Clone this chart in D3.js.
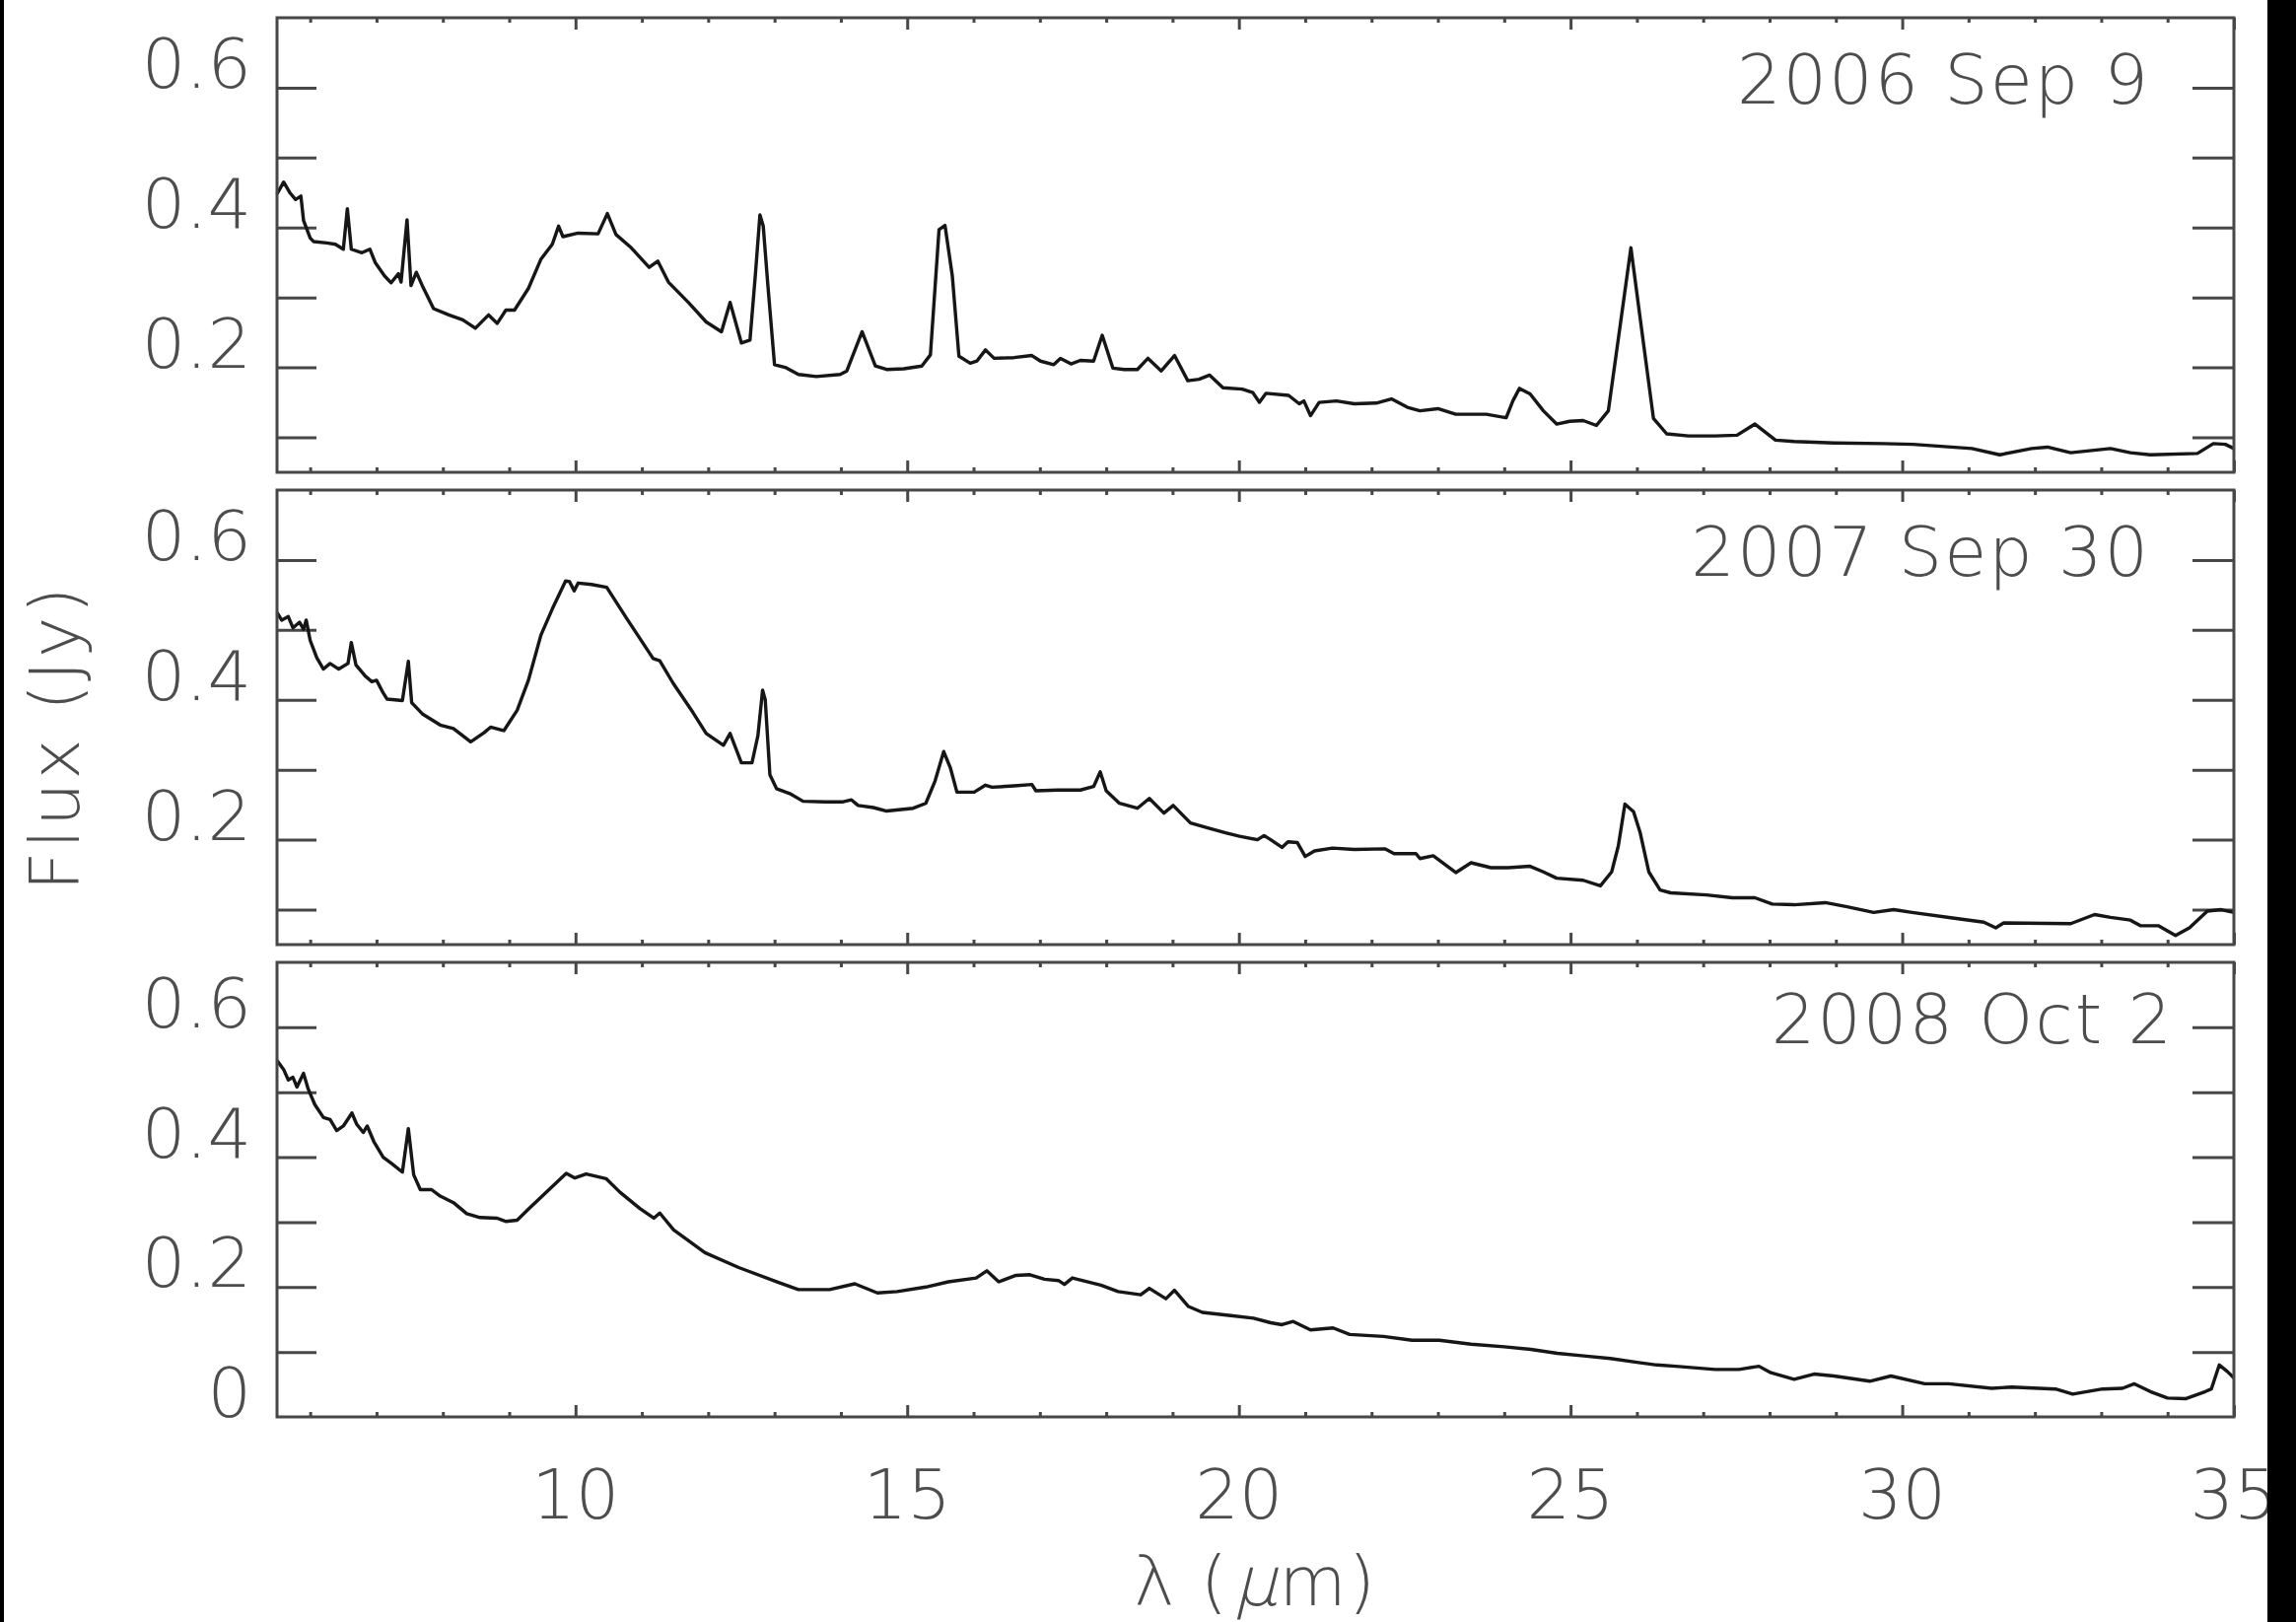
<!DOCTYPE html>
<html>
<head>
<meta charset="utf-8">
<script src="https://cdn.jsdelivr.net/npm/d3@7"></script>
<style>
  html, body { margin: 0; padding: 0; background: #fff; }
  svg { display: block; }
  .lbl { font-family: "DejaVu Sans", "Open Sans", sans-serif; font-weight: 200; fill: #4d4d4d; }
</style>
</head>
<body>
<script>
// Mid-infrared spectra (wavelength in micron, flux in Jy) for three epochs
const panelDates = ["2006 Sep 9", "2007 Sep 30", "2008 Oct 2"];

const spec2006 = [[5.50,0.448],[5.60,0.465],[5.70,0.449],[5.78,0.440],[5.86,0.445],[5.90,0.410],[6.00,0.385],[6.05,0.380],[6.25,0.378],[6.38,0.376],[6.50,0.369],[6.56,0.427],[6.62,0.369],[6.78,0.364],[6.90,0.369],[6.98,0.350],[7.12,0.331],[7.22,0.321],[7.33,0.334],[7.37,0.322],[7.46,0.411],[7.52,0.317],[7.60,0.336],[7.69,0.317],[7.86,0.284],[8.09,0.275],[8.30,0.268],[8.49,0.256],[8.69,0.275],[8.82,0.263],[8.95,0.282],[9.08,0.282],[9.29,0.313],[9.48,0.355],[9.65,0.376],[9.745,0.402],[9.81,0.387],[10.04,0.392],[10.34,0.391],[10.48,0.420],[10.61,0.390],[10.84,0.371],[11.11,0.343],[11.24,0.352],[11.40,0.322],[11.70,0.293],[11.97,0.265],[12.20,0.251],[12.33,0.293],[12.50,0.235],[12.63,0.239],[12.71,0.331],[12.78,0.418],[12.83,0.402],[12.90,0.317],[13.00,0.204],[13.16,0.200],[13.36,0.190],[13.63,0.187],[13.99,0.190],[14.09,0.195],[14.32,0.251],[14.52,0.202],[14.69,0.197],[14.95,0.198],[15.22,0.202],[15.35,0.218],[15.48,0.397],[15.57,0.403],[15.68,0.331],[15.78,0.216],[15.95,0.206],[16.05,0.209],[16.18,0.225],[16.31,0.213],[16.61,0.214],[16.88,0.217],[17.01,0.209],[17.21,0.204],[17.31,0.213],[17.47,0.205],[17.61,0.210],[17.81,0.209],[17.94,0.246],[18.10,0.199],[18.27,0.197],[18.47,0.197],[18.63,0.213],[18.83,0.195],[19.03,0.217],[19.23,0.181],[19.40,0.183],[19.56,0.189],[19.76,0.171],[20.05,0.169],[20.21,0.164],[20.31,0.150],[20.41,0.163],[20.75,0.160],[20.91,0.148],[20.98,0.152],[21.08,0.131],[21.21,0.150],[21.47,0.152],[21.74,0.148],[22.07,0.149],[22.30,0.155],[22.54,0.143],[22.73,0.138],[23.00,0.141],[23.27,0.133],[23.73,0.133],[24.03,0.128],[24.13,0.152],[24.23,0.170],[24.39,0.162],[24.59,0.138],[24.79,0.119],[24.99,0.123],[25.19,0.124],[25.39,0.117],[25.57,0.138],[25.75,0.261],[25.91,0.371],[26.05,0.270],[26.25,0.127],[26.45,0.105],[26.78,0.102],[27.18,0.102],[27.51,0.103],[27.78,0.119],[28.09,0.096],[28.37,0.094],[28.97,0.092],[29.70,0.091],[30.16,0.090],[31.05,0.084],[31.47,0.075],[31.95,0.084],[32.19,0.086],[32.54,0.078],[33.14,0.084],[33.44,0.078],[33.74,0.075],[34.45,0.077],[34.69,0.091],[34.87,0.090],[35.00,0.084]];

const spec2007 = [[5.50,0.525],[5.57,0.514],[5.67,0.519],[5.74,0.503],[5.84,0.511],[5.90,0.501],[5.94,0.514],[6.00,0.485],[6.10,0.460],[6.20,0.444],[6.30,0.452],[6.43,0.444],[6.57,0.452],[6.62,0.482],[6.69,0.450],[6.83,0.434],[6.93,0.426],[7.00,0.428],[7.10,0.410],[7.16,0.401],[7.39,0.399],[7.48,0.455],[7.53,0.396],[7.69,0.380],[7.96,0.364],[8.16,0.359],[8.42,0.340],[8.62,0.353],[8.72,0.361],[8.92,0.356],[9.12,0.385],[9.29,0.428],[9.48,0.493],[9.65,0.530],[9.85,0.570],[9.91,0.569],[9.98,0.556],[10.04,0.567],[10.24,0.565],[10.47,0.561],[10.78,0.515],[11.17,0.459],[11.27,0.456],[11.47,0.424],[11.77,0.382],[11.97,0.352],[12.23,0.335],[12.33,0.352],[12.50,0.310],[12.66,0.310],[12.75,0.349],[12.82,0.414],[12.86,0.400],[12.93,0.293],[13.03,0.273],[13.23,0.266],[13.43,0.255],[13.76,0.254],[14.02,0.254],[14.16,0.257],[14.26,0.249],[14.49,0.246],[14.69,0.241],[15.09,0.245],[15.28,0.252],[15.42,0.284],[15.55,0.326],[15.65,0.303],[15.75,0.268],[16.01,0.268],[16.18,0.278],[16.28,0.275],[16.61,0.277],[16.88,0.279],[16.94,0.270],[17.27,0.271],[17.61,0.271],[17.81,0.276],[17.91,0.297],[18.00,0.270],[18.20,0.252],[18.47,0.245],[18.65,0.259],[18.87,0.238],[19.01,0.249],[19.27,0.224],[19.53,0.217],[19.80,0.210],[20.01,0.205],[20.28,0.200],[20.38,0.206],[20.48,0.200],[20.65,0.189],[20.74,0.197],[20.88,0.196],[21.00,0.176],[21.14,0.184],[21.41,0.188],[21.74,0.186],[22.20,0.187],[22.34,0.180],[22.67,0.180],[22.73,0.173],[22.93,0.177],[23.27,0.153],[23.50,0.167],[23.80,0.160],[24.06,0.160],[24.39,0.162],[24.59,0.154],[24.79,0.145],[25.19,0.142],[25.45,0.134],[25.62,0.154],[25.72,0.191],[25.82,0.251],[25.95,0.240],[26.05,0.210],[26.18,0.154],[26.35,0.128],[26.51,0.124],[27.05,0.121],[27.44,0.117],[27.78,0.117],[28.04,0.108],[28.37,0.107],[28.84,0.110],[29.17,0.104],[29.57,0.096],[29.87,0.100],[30.15,0.096],[30.76,0.088],[31.23,0.082],[31.41,0.074],[31.53,0.081],[32.54,0.080],[32.90,0.093],[33.14,0.089],[33.44,0.085],[33.59,0.077],[33.86,0.077],[34.12,0.063],[34.33,0.074],[34.60,0.098],[34.81,0.100],[35.00,0.096]];

const spec2008 = [[5.50,0.549],[5.60,0.535],[5.67,0.519],[5.74,0.523],[5.80,0.508],[5.90,0.529],[5.97,0.505],[6.07,0.481],[6.20,0.461],[6.30,0.458],[6.40,0.441],[6.50,0.448],[6.63,0.468],[6.70,0.451],[6.80,0.438],[6.86,0.448],[6.96,0.424],[7.10,0.400],[7.23,0.390],[7.39,0.377],[7.48,0.444],[7.56,0.373],[7.66,0.350],[7.83,0.350],[7.96,0.340],[8.16,0.330],[8.36,0.313],[8.56,0.307],[8.82,0.306],[8.95,0.301],[9.12,0.303],[9.29,0.320],[9.62,0.352],[9.86,0.375],[9.99,0.368],[10.16,0.374],[10.46,0.367],[10.67,0.346],[10.97,0.321],[11.18,0.306],[11.27,0.314],[11.48,0.288],[11.95,0.253],[12.46,0.230],[13.06,0.207],[13.36,0.196],[13.83,0.196],[14.21,0.205],[14.55,0.191],[14.85,0.193],[15.28,0.200],[15.62,0.208],[16.04,0.214],[16.20,0.225],[16.38,0.208],[16.64,0.218],[16.85,0.219],[17.07,0.212],[17.28,0.210],[17.37,0.204],[17.49,0.214],[17.92,0.203],[18.18,0.193],[18.52,0.188],[18.65,0.198],[18.90,0.182],[19.03,0.195],[19.24,0.170],[19.45,0.161],[19.88,0.156],[20.22,0.152],[20.48,0.145],[20.65,0.142],[20.82,0.147],[21.08,0.134],[21.42,0.137],[21.67,0.127],[22.18,0.124],[22.61,0.118],[23.02,0.118],[23.50,0.112],[24.00,0.108],[24.40,0.104],[24.80,0.098],[25.20,0.094],[25.60,0.090],[26.00,0.084],[26.30,0.080],[26.585,0.078],[27.18,0.073],[27.54,0.073],[27.84,0.078],[28.02,0.068],[28.37,0.058],[28.67,0.066],[28.97,0.063],[29.51,0.055],[29.83,0.063],[30.34,0.051],[30.70,0.051],[31.35,0.044],[31.65,0.046],[32.31,0.043],[32.57,0.035],[33.02,0.043],[33.32,0.044],[33.50,0.051],[33.74,0.039],[34.00,0.029],[34.27,0.028],[34.57,0.039],[34.66,0.043],[34.78,0.080],[34.90,0.070],[35.00,0.060]];

const spectra = [spec2006, spec2007, spec2008];

// Axis ranges and ticks
const xDomain = [5.5, 35];
const yDomains = [[0.05, 0.7], [0.05, 0.7], [0, 0.7]];
const xMajorTicks = [10, 15, 20, 25, 30, 35];
const xMinorTicks = d3.range(6, 36).filter(v => v % 5 !== 0);
const yTicks = [0.1, 0.2, 0.3, 0.4, 0.5, 0.6];
const yTickLabels = [[0.2, "0.2"], [0.4, "0.4"], [0.6, "0.6"]];
const yZeroLabel = [0, "0"];
const xTitleParts = ["λ (", "μ", "m)"];
const yTitle = "Flux (Jy)";

// Layout
const W = 2329, H = 1645;
const left = 281, right = 2266;
const panelTops = [18, 497, 976];
const panelH = 461;
const dateRight = [2181, 2181, 2205];
const fontSize = 70;
const frameColor = "#474747";
const lineColor = "#161616";

const svg = d3.select("body").append("svg")
  .attr("width", W).attr("height", H)
  .attr("viewBox", `0 0 ${W} ${H}`);

svg.append("rect").attr("width", W).attr("height", H).attr("fill", "#fff");

const x = d3.scaleLinear().domain(xDomain).range([left, right]);

spectra.forEach((data, i) => {
  const top = panelTops[i], bottom = top + panelH;
  const y = d3.scaleLinear().domain(yDomains[i]).range([bottom, top]);
  const g = svg.append("g");

  // tick marks on all four sides
  const styleAxis = sel => {
    sel.select(".domain").remove();
    sel.selectAll(".tick line").attr("stroke", frameColor).attr("stroke-width", 3);
    sel.selectAll(".tick text").remove();
  };
  g.append("g").attr("transform", `translate(${left},0)`)
    .call(d3.axisLeft(y).tickValues(yTicks).tickSize(-40).tickFormat(""))
    .call(styleAxis);
  g.append("g").attr("transform", `translate(${right},0)`)
    .call(d3.axisRight(y).tickValues(yTicks).tickSize(-42).tickFormat(""))
    .call(styleAxis);
  g.append("g").attr("transform", `translate(0,${bottom})`)
    .call(d3.axisBottom(x).tickValues(xMinorTicks).tickSize(-5).tickFormat(""))
    .call(styleAxis);
  g.append("g").attr("transform", `translate(0,${bottom})`)
    .call(d3.axisBottom(x).tickValues(xMajorTicks).tickSize(-12).tickFormat(""))
    .call(styleAxis);
  g.append("g").attr("transform", `translate(0,${top})`)
    .call(d3.axisTop(x).tickValues(xMinorTicks).tickSize(-5).tickFormat(""))
    .call(styleAxis);
  g.append("g").attr("transform", `translate(0,${top})`)
    .call(d3.axisTop(x).tickValues(xMajorTicks).tickSize(-12).tickFormat(""))
    .call(styleAxis);

  // spectrum
  const line = d3.line().x(d => x(d[0])).y(d => y(d[1]));
  g.append("path").datum(data)
    .attr("d", line)
    .attr("fill", "none")
    .attr("stroke", lineColor)
    .attr("stroke-width", 3.4)
    .attr("stroke-linejoin", "round");

  // frame
  g.append("rect")
    .attr("x", left).attr("y", top)
    .attr("width", right - left).attr("height", panelH)
    .attr("fill", "none").attr("stroke", frameColor).attr("stroke-width", 3);

  // y tick labels (baseline sits on the tick)
  const labels = i === 2 ? yTickLabels.concat([yZeroLabel]) : yTickLabels;
  g.selectAll("text.ytl").data(labels).join("text")
    .attr("class", "lbl ytl")
    .attr("x", 255).attr("y", d => y(d[0]))
    .attr("text-anchor", "end")
    .attr("font-size", fontSize)
    .text(d => d[1]);

  // epoch label
  g.append("text")
    .attr("class", "lbl")
    .attr("x", dateRight[i]).attr("y", y(0.6) + 16)
    .attr("text-anchor", "end")
    .attr("font-size", fontSize)
    .attr("letter-spacing", 2)
    .text(panelDates[i]);
});

// x tick labels
svg.selectAll("text.xtl").data(xMajorTicks).join("text")
  .attr("class", "lbl xtl")
  .attr("x", d => x(d)).attr("y", 1540)
  .attr("text-anchor", "middle")
  .attr("font-size", fontSize)
  .text(d => d);

// x title: the mu is slanted like a math symbol, built from three pieces
const xTitle = svg.append("g");
const pieces = xTitleParts.map((t, k) => xTitle.append("text")
  .attr("class", "lbl").attr("font-size", fontSize).attr("letter-spacing", 2).text(t));
const widths = pieces.map(p => p.node().getComputedTextLength());
const total = d3.sum(widths) + 4;
let cx = (left + right) / 2 - total / 2;
const baseY = 1628;
pieces.forEach((p, k) => {
  if (k === 1) {
    p.attr("transform", `translate(${cx + 4},${baseY}) skewX(-14)`);
    cx += widths[k] + 4;
  } else {
    p.attr("x", cx).attr("y", baseY);
    cx += widths[k];
  }
});

svg.append("text").attr("class", "lbl")
  .attr("transform", "translate(80,748) rotate(-90)")
  .attr("text-anchor", "middle").attr("font-size", fontSize)
  .attr("letter-spacing", 3)
  .text(yTitle);

// dark borders at the sides of the page
svg.append("rect").attr("x", 0).attr("y", 0).attr("width", 4).attr("height", H).attr("fill", "#000");
svg.append("rect").attr("x", 2300).attr("y", 0).attr("width", W - 2300).attr("height", H).attr("fill", "#000");
</script>
</body>
</html>
